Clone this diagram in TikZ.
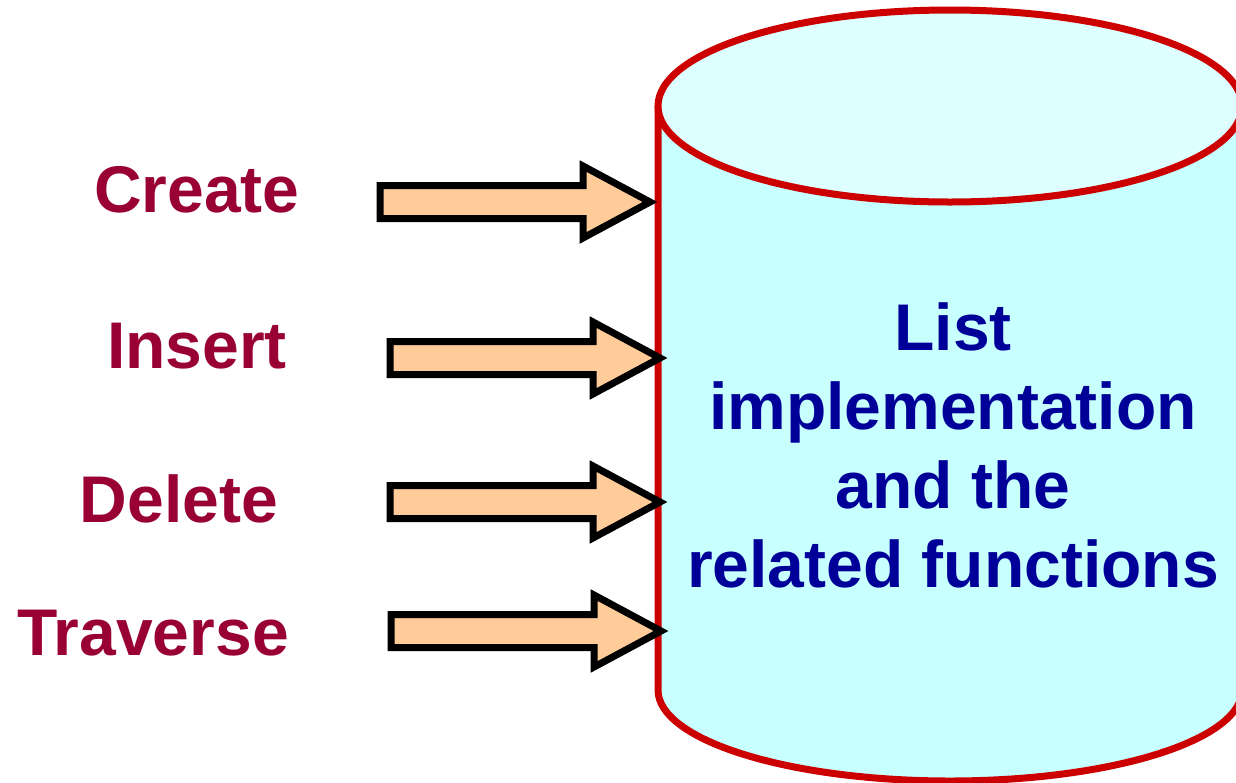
\documentclass[tikz,border=0pt]{standalone}
\usepackage{fontspec}
\setmainfont{Liberation Sans}
\definecolor{opred}{HTML}{990033}
\definecolor{listblue}{HTML}{000099}
\definecolor{cylred}{HTML}{CC0000}
\definecolor{cyltop}{HTML}{DDFFFF}
\definecolor{cylbody}{HTML}{C8FFFF}
\definecolor{arrowfill}{HTML}{FFCC99}
\tikzset{
  opname/.style={anchor=base, inner sep=0pt, text=opred, font=\fontsize{66}{79}\selectfont\bfseries},
  listtext/.style={inner sep=0pt, align=center, text=listblue, font=\fontsize{66}{79}\selectfont\bfseries},
  blockarrow/.style={draw=black, fill=arrowfill, line width=7pt, line join=miter},
  cylline/.style={draw=cylred, line width=7pt}
}
\begin{document}
\begin{tikzpicture}[x=1pt, y=1pt]
		\useasboundingbox (0,0) rectangle (1236,-782);
		\clip (0,0) rectangle (1236,-782);
		% the list cylinder
		\fill[cylbody] (658,-106) rectangle (1242,-690);
		\fill[cylbody] (950,-690) ellipse [x radius=292, y radius=91];
		\draw[cylline] (658,-106) -- (658,-690) arc[start angle=180, end angle=360, x radius=292, y radius=91] -- (1242,-106);
		\draw[cylline, fill=cyltop] (950,-106) ellipse [x radius=292, y radius=96];
		\node[listtext] (list) at (953,-445) {List\\implementation\\and the\\related functions};
		% the operations
		\node[opname] (create) at (197,-212) {Create};
		\node[opname] (insert) at (197,-368) {Insert};
		\node[opname] (delete) at (179,-522) {Delete};
		\node[opname] (traverse) at (153,-655) {Traverse};
		\foreach \tail/\y/\tip in {380/202/650, 390/358/660, 390/502/660, 391/631/661}
		\draw[blockarrow] (\tail,-\y+16.5) -- (\tip-67,-\y+16.5) -- (\tip-67,-\y+36) -- (\tip,-\y) -- (\tip-67,-\y-36) -- (\tip-67,-\y-16.5) -- (\tail,-\y-16.5) -- cycle;
\end{tikzpicture}
\end{document}
